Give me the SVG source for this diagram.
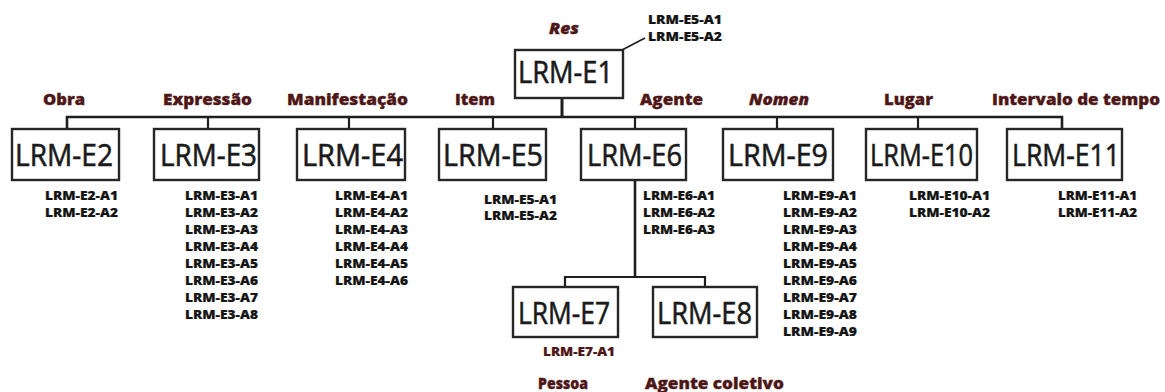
<svg xmlns="http://www.w3.org/2000/svg" width="1165" height="392" viewBox="0 0 1165 392">
<style>
.box{fill:#fff;stroke:#262626;stroke-width:2.4}
.bt{font-family:"Open Sans","Liberation Sans",sans-serif;font-size:31px;font-weight:500;fill:#1a1a1a;stroke:#1a1a1a;stroke-width:0.6}
.cat{font-family:"Open Sans","Liberation Sans",sans-serif;font-size:16px;font-weight:800;fill:#4e1717;stroke:#4e1717;stroke-width:0.35}
.it{font-style:italic}
.at{font-family:"Open Sans","Liberation Sans",sans-serif;font-size:12.5px;font-weight:800;fill:#141414;stroke:#141414;stroke-width:0.2}
.red{fill:#4e1717;stroke:#4e1717}
.ln{fill:none;stroke:#1e1e1e;stroke-width:2.6}
</style>
<rect width="1165" height="392" fill="#fff"/>
<g id="connectors" class="ln">
<path d="M562,98 V117" stroke-width="3"/>
<path d="M67,129 V117 H1062 V129"/>
<path d="M208,117 V129 M349,117 V129 M493,117 V129 M635,117 V129 M777,117 V129 M918,117 V129" stroke-width="2.2"/>
<path d="M635,180 V277"/>
<path d="M565,287 V277 H705 V287" stroke-width="2.2"/>
<path d="M622,50 L645,38" stroke-width="1.6"/>
</g>
<g id="E1">
<rect class="box" x="515" y="50" width="108" height="48"/>
<text class="bt" x="518" y="83" textLength="95" lengthAdjust="spacingAndGlyphs">LRM-E1</text>
<text class="cat it" x="549" y="34" textLength="30" lengthAdjust="spacingAndGlyphs">Res</text>
<text class="at" x="648" y="24" textLength="74" lengthAdjust="spacingAndGlyphs">LRM-E5-A1</text>
<text class="at" x="648" y="41" textLength="74" lengthAdjust="spacingAndGlyphs">LRM-E5-A2</text>
</g>
<g id="E2">
<rect class="box" x="12" y="129" width="107" height="51"/>
<text class="bt" x="15" y="166" textLength="98" lengthAdjust="spacingAndGlyphs">LRM-E2</text>
<text class="cat" x="43" y="105" textLength="42" lengthAdjust="spacingAndGlyphs">Obra</text>
<text class="at" x="45" y="200" textLength="73" lengthAdjust="spacingAndGlyphs">LRM-E2-A1</text>
<text class="at" x="45" y="217" textLength="73" lengthAdjust="spacingAndGlyphs">LRM-E2-A2</text>
</g>
<g id="E3">
<rect class="box" x="154" y="129" width="105" height="51"/>
<text class="bt" x="160" y="166" textLength="97" lengthAdjust="spacingAndGlyphs">LRM-E3</text>
<text class="cat" x="163" y="105" textLength="89" lengthAdjust="spacingAndGlyphs">Expressão</text>
<text class="at" x="185" y="200" textLength="73" lengthAdjust="spacingAndGlyphs">LRM-E3-A1</text>
<text class="at" x="185" y="217" textLength="73" lengthAdjust="spacingAndGlyphs">LRM-E3-A2</text>
<text class="at" x="185" y="234" textLength="73" lengthAdjust="spacingAndGlyphs">LRM-E3-A3</text>
<text class="at" x="185" y="251" textLength="73" lengthAdjust="spacingAndGlyphs">LRM-E3-A4</text>
<text class="at" x="185" y="268" textLength="73" lengthAdjust="spacingAndGlyphs">LRM-E3-A5</text>
<text class="at" x="185" y="285" textLength="73" lengthAdjust="spacingAndGlyphs">LRM-E3-A6</text>
<text class="at" x="185" y="302" textLength="73" lengthAdjust="spacingAndGlyphs">LRM-E3-A7</text>
<text class="at" x="185" y="319" textLength="73" lengthAdjust="spacingAndGlyphs">LRM-E3-A8</text>
</g>
<g id="E4">
<rect class="box" x="297" y="129" width="108" height="51"/>
<text class="bt" x="302" y="166" textLength="101" lengthAdjust="spacingAndGlyphs">LRM-E4</text>
<text class="cat" x="287" y="105" textLength="121" lengthAdjust="spacingAndGlyphs">Manifestação</text>
<text class="at" x="335" y="200" textLength="73" lengthAdjust="spacingAndGlyphs">LRM-E4-A1</text>
<text class="at" x="335" y="217" textLength="73" lengthAdjust="spacingAndGlyphs">LRM-E4-A2</text>
<text class="at" x="335" y="234" textLength="73" lengthAdjust="spacingAndGlyphs">LRM-E4-A3</text>
<text class="at" x="335" y="251" textLength="73" lengthAdjust="spacingAndGlyphs">LRM-E4-A4</text>
<text class="at" x="335" y="268" textLength="73" lengthAdjust="spacingAndGlyphs">LRM-E4-A5</text>
<text class="at" x="335" y="285" textLength="73" lengthAdjust="spacingAndGlyphs">LRM-E4-A6</text>
</g>
<g id="E5">
<rect class="box" x="439" y="129" width="107" height="51"/>
<text class="bt" x="443" y="166" textLength="100" lengthAdjust="spacingAndGlyphs">LRM-E5</text>
<text class="cat" x="455" y="105" textLength="40" lengthAdjust="spacingAndGlyphs">Item</text>
<text class="at" x="484" y="204" textLength="73" lengthAdjust="spacingAndGlyphs">LRM-E5-A1</text>
<text class="at" x="484" y="220" textLength="73" lengthAdjust="spacingAndGlyphs">LRM-E5-A2</text>
</g>
<g id="E6">
<rect class="box" x="581" y="129" width="105" height="51"/>
<text class="bt" x="587" y="166" textLength="95" lengthAdjust="spacingAndGlyphs">LRM-E6</text>
<text class="cat" x="640" y="105" textLength="63" lengthAdjust="spacingAndGlyphs">Agente</text>
<text class="at" x="643" y="200" textLength="72" lengthAdjust="spacingAndGlyphs">LRM-E6-A1</text>
<text class="at" x="643" y="217" textLength="72" lengthAdjust="spacingAndGlyphs">LRM-E6-A2</text>
<text class="at" x="643" y="234" textLength="72" lengthAdjust="spacingAndGlyphs">LRM-E6-A3</text>
</g>
<g id="E7">
<rect class="box" x="513" y="287" width="105" height="50"/>
<text class="bt" x="518" y="324" textLength="92" lengthAdjust="spacingAndGlyphs">LRM-E7</text>
<text class="at red" x="543" y="356" textLength="72" lengthAdjust="spacingAndGlyphs">LRM-E7-A1</text>
<text class="cat" x="538" y="389" textLength="50" lengthAdjust="spacingAndGlyphs">Pessoa</text>
</g>
<g id="E8">
<rect class="box" x="653" y="287" width="104" height="50"/>
<text class="bt" x="657" y="324" textLength="95" lengthAdjust="spacingAndGlyphs">LRM-E8</text>
<text class="cat" x="645" y="389" textLength="139" lengthAdjust="spacingAndGlyphs">Agente coletivo</text>
</g>
<g id="E9">
<rect class="box" x="723" y="129" width="110" height="51"/>
<text class="bt" x="728" y="166" textLength="100" lengthAdjust="spacingAndGlyphs">LRM-E9</text>
<text class="cat it" x="749" y="105" textLength="60" lengthAdjust="spacingAndGlyphs">Nomen</text>
<text class="at" x="783" y="200" textLength="74" lengthAdjust="spacingAndGlyphs">LRM-E9-A1</text>
<text class="at" x="783" y="217" textLength="74" lengthAdjust="spacingAndGlyphs">LRM-E9-A2</text>
<text class="at" x="783" y="234" textLength="74" lengthAdjust="spacingAndGlyphs">LRM-E9-A3</text>
<text class="at" x="783" y="251" textLength="74" lengthAdjust="spacingAndGlyphs">LRM-E9-A4</text>
<text class="at" x="783" y="268" textLength="74" lengthAdjust="spacingAndGlyphs">LRM-E9-A5</text>
<text class="at" x="783" y="285" textLength="74" lengthAdjust="spacingAndGlyphs">LRM-E9-A6</text>
<text class="at" x="783" y="302" textLength="74" lengthAdjust="spacingAndGlyphs">LRM-E9-A7</text>
<text class="at" x="783" y="319" textLength="74" lengthAdjust="spacingAndGlyphs">LRM-E9-A8</text>
<text class="at" x="783" y="336" textLength="74" lengthAdjust="spacingAndGlyphs">LRM-E9-A9</text>
</g>
<g id="E10">
<rect class="box" x="866" y="129" width="111" height="51"/>
<text class="bt" x="870" y="166" textLength="103" lengthAdjust="spacingAndGlyphs">LRM-E10</text>
<text class="cat" x="884" y="105" textLength="49" lengthAdjust="spacingAndGlyphs">Lugar</text>
<text class="at" x="909" y="200" textLength="81" lengthAdjust="spacingAndGlyphs">LRM-E10-A1</text>
<text class="at" x="909" y="217" textLength="81" lengthAdjust="spacingAndGlyphs">LRM-E10-A2</text>
</g>
<g id="E11">
<rect class="box" x="1007" y="129" width="115" height="51"/>
<text class="bt" x="1012" y="166" textLength="108" lengthAdjust="spacingAndGlyphs">LRM-E11</text>
<text class="cat" x="992" y="105" textLength="168" lengthAdjust="spacingAndGlyphs">Intervalo de tempo</text>
<text class="at" x="1058" y="200" textLength="79" lengthAdjust="spacingAndGlyphs">LRM-E11-A1</text>
<text class="at" x="1058" y="217" textLength="79" lengthAdjust="spacingAndGlyphs">LRM-E11-A2</text>
</g>
</svg>
